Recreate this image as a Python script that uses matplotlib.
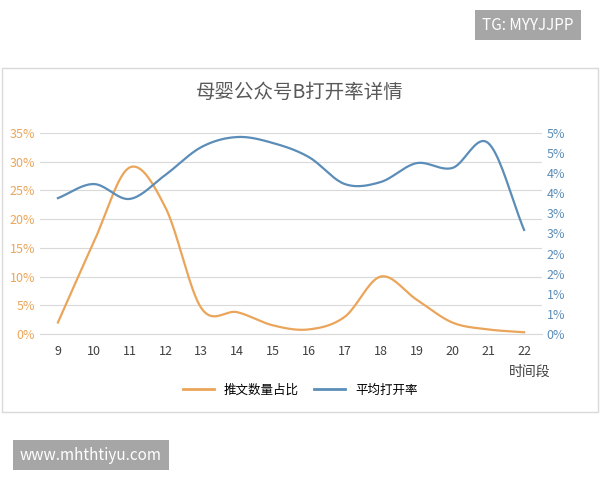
import numpy as np
import matplotlib
matplotlib.use("Agg")
import matplotlib.pyplot as plt
from matplotlib.patches import Rectangle
from matplotlib.ticker import FuncFormatter

plt.rcParams['font.family'] = ['Noto Sans CJK SC', 'DejaVu Sans']

hours = [9, 10, 11, 12, 13, 14, 15, 16, 17, 18, 19, 20, 21, 22]
share = [2.0, 16.0, 29.0, 22.0, 4.5, 3.8, 1.5, 0.8, 3.0, 10.0, 6.0, 2.0, 0.8, 0.3]
open_rate = [3.38, 3.73, 3.36, 3.96, 4.65, 4.9, 4.75, 4.4, 3.73, 3.78, 4.25, 4.13, 4.75, 2.59]

orange = '#EBA55A'
blue = '#5B8DB8'

def smooth(x, y, n=20):
    x = np.asarray(x, float); y = np.asarray(y, float)
    px = np.concatenate([[2*x[0]-x[1]], x, [2*x[-1]-x[-2]]])
    py = np.concatenate([[2*y[0]-y[1]], y, [2*y[-1]-y[-2]]])
    xs, ys = [], []
    t = np.linspace(0, 1, n, endpoint=False)
    for i in range(1, len(px)-2):
        p0, p1, p2, p3 = py[i-1], py[i], py[i+1], py[i+2]
        ys.append(0.5*((2*p1) + (-p0+p2)*t + (2*p0-5*p1+4*p2-p3)*t**2 + (-p0+3*p1-3*p2+p3)*t**3))
        xs.append(px[i] + (px[i+1]-px[i])*t)
    xs.append([x[-1]]); ys.append([y[-1]])
    return np.concatenate(xs), np.concatenate(ys)

fig = plt.figure(figsize=(6, 4.8), dpi=100)
fig.patches.append(Rectangle((2/600, 1-412/480), 596/600, 344/480, transform=fig.transFigure,
                             fill=False, edgecolor='#D9D9D9', lw=1))
ax = fig.add_axes([40/600, 1-334/480, 502/600, 201/480])
ax2 = ax.twinx()

x1, y1 = smooth(hours, share)
ax.plot(x1, y1, color=orange, lw=1.6)
x2, y2 = smooth(hours, open_rate)
ax2.plot(x2, y2, color=blue, lw=1.6)

ax.set_xlim(8.5, 22.5)
ax.set_ylim(0, 35)
ax2.set_ylim(0, 5)
ax.set_yticks(np.arange(0, 36, 5))
ax2.set_yticks(np.arange(0, 5.01, 0.5))
ax.yaxis.set_major_formatter(FuncFormatter(lambda v, p: f"{v:.0f}%"))
ax2.yaxis.set_major_formatter(FuncFormatter(lambda v, p: f"{int(v+0.5) if v%1 else int(v)}%"))
ax.set_xticks(hours)
ax.grid(axis='y', color='#D9D9D9', lw=0.8)
ax.set_axisbelow(True)
for a in (ax, ax2):
    for s in a.spines.values():
        s.set_visible(False)
    a.tick_params(length=0, labelsize=9)
ax.spines['bottom'].set_visible(True)
ax.spines['bottom'].set_color('#D9D9D9')
ax.tick_params(axis='y', colors=orange, labelcolor=orange)
ax.tick_params(axis='x', labelcolor='#404040', pad=8)
ax2.tick_params(axis='y', labelcolor=blue)

fig.text(0.5, 1-92/480, '母婴公众号B打开率详情', ha='center', va='center', fontsize=14, color='#595959')
fig.text(530/600, 1-372/480, '时间段', ha='center', va='center', fontsize=10, color='#404040')

from matplotlib.lines import Line2D
h = [Line2D([], [], color=orange, lw=2), Line2D([], [], color=blue, lw=2)]
fig.legend(h, ['推文数量占比', '平均打开率'], loc='center', bbox_to_anchor=(0.5, 1-390/480),
           ncol=2, frameon=False, fontsize=9, handlelength=2.5, columnspacing=1.2)

fig.text(528/600, 1-25/480, 'TG: MYYJJPP', ha='center', va='center', fontsize=11, color='white',
         bbox=dict(boxstyle='square,pad=0.45', fc='#A6A6A6', ec='none'))
fig.text(91/600, 1-455/480, 'www.mhthtiyu.com', ha='center', va='center', fontsize=11, color='white',
         bbox=dict(boxstyle='square,pad=0.45', fc='#A6A6A6', ec='none'))

fig.savefig('out.png', dpi=100)
